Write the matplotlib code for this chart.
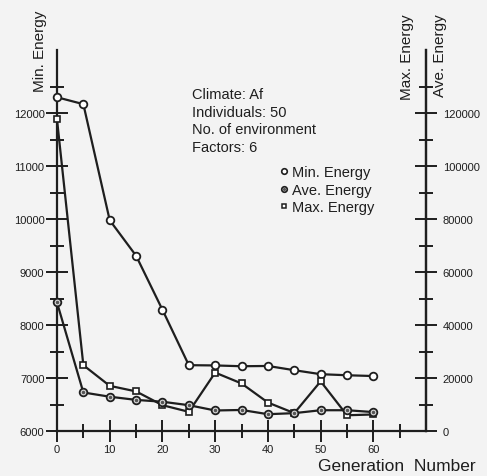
import matplotlib.pyplot as plt
from matplotlib.lines import Line2D
from matplotlib.ticker import FixedLocator

plt.rcParams['font.family'] = ['Liberation Sans', 'DejaVu Sans']

gen = [0, 5, 10, 15, 20, 25, 30, 35, 40, 45, 50, 55, 60]
min_energy = [12300, 12170, 9980, 9310, 8290, 7245, 7240, 7225, 7230, 7150, 7075, 7055, 7040]
ave_energy = [48600, 14600, 13000, 11800, 11100, 9800, 7800, 8000, 6400, 6800, 7900, 7900, 7200]
max_energy = [117700, 24900, 17100, 15000, 9800, 7300, 22100, 18000, 10800, 6800, 18800, 6000, 6300]

x_major = [0, 10, 20, 30, 40, 50, 60]
x_minor = [5, 15, 25, 35, 45, 55, 65]
left_major = [6000, 7000, 8000, 9000, 10000, 11000, 12000]
left_minor = [6500, 7500, 8500, 9500, 10500, 11500, 12500]
right_major = [0, 20000, 40000, 60000, 80000, 100000, 120000]
right_minor = [10000, 30000, 50000, 70000, 90000, 110000, 130000]

info = "Climate: Af\nIndividuals: 50\nNo. of environment\nFactors: 6"

ink = '#1e1e1e'
bg = '#f3f3f3'

fig = plt.figure(figsize=(4.87, 4.77), dpi=100, facecolor=bg)
ax = fig.add_axes([0.117, 0.094, 0.758, 0.80])
ax.set_facecolor(bg)
ax2 = ax.twinx()

ax.set_xlim(0, 70)
ax.set_ylim(6000, 13200)
ax2.set_ylim(0, 144000)

ax.plot(gen, min_energy, color=ink, lw=1.6, marker='o', ms=5.5,
        mfc='white', mec=ink, mew=1.3, clip_on=False, zorder=3)
ax2.plot(gen, max_energy, color=ink, lw=1.6, marker='s', ms=4.5,
         mfc='white', mec=ink, mew=1.2, clip_on=False, zorder=3)
ax2.plot(gen, ave_energy, color=ink, lw=1.6, marker='o', ms=5.5,
         mfc='#d8d8d8', mec=ink, mew=1.3, clip_on=False, zorder=4)
ax2.plot(gen, ave_energy, ls='none', marker='.', ms=3, color='#555555',
         clip_on=False, zorder=5)

for a in (ax, ax2):
    a.spines['top'].set_visible(False)
    for s in a.spines.values():
        s.set_linewidth(1.6)
        s.set_color(ink)

ax2.spines['left'].set_visible(False)
ax2.spines['bottom'].set_visible(False)

ax.set_xticks(x_major)
ax.xaxis.set_minor_locator(FixedLocator(x_minor))
ax.set_yticks(left_major)
ax.yaxis.set_minor_locator(FixedLocator(left_minor))
ax2.set_yticks(right_major)
ax2.yaxis.set_minor_locator(FixedLocator(right_minor))

ax.tick_params(axis='both', which='major', direction='inout', length=16,
               width=1.4, color=ink, labelsize=8, labelcolor=ink, pad=1)
ax.tick_params(axis='both', which='minor', direction='inout', length=10,
               width=1.4, color=ink)
ax2.tick_params(axis='y', which='major', direction='inout', length=16,
                width=1.4, color=ink, labelsize=8, labelcolor=ink, pad=4)
ax2.tick_params(axis='y', which='minor', direction='inout', length=10,
                width=1.4, color=ink)

fig.text(40 / 487, 1 - 92 / 477, 'Min. Energy', rotation=90, ha='center',
         va='bottom', fontsize=11, color=ink)
fig.text(407 / 487, 1 - 100 / 477, 'Max. Energy', rotation=90, ha='center',
         va='bottom', fontsize=11, color=ink)
fig.text(440 / 487, 1 - 97 / 477, 'Ave. Energy', rotation=90, ha='center',
         va='bottom', fontsize=11, color=ink)
fig.text(476 / 487, 1 - 467 / 477, 'Generation  Number', ha='right',
         va='center', fontsize=12.5, color=ink)

fig.text(192 / 487, 1 - 88 / 477, info, ha='left', va='top',
         fontsize=10.5, linespacing=1.32, color=ink)

handles = [
    Line2D([], [], ls='none', marker='o', ms=4, mfc='white', mec=ink, mew=1.2),
    (Line2D([], [], ls='none', marker='o', ms=4, mfc='#d8d8d8', mec=ink, mew=1.2),
     Line2D([], [], ls='none', marker='.', ms=2.5, color='#555555')),
    Line2D([], [], ls='none', marker='s', ms=3.5, mfc='white', mec=ink, mew=1.1),
]
labels = ['Min. Energy', 'Ave. Energy', 'Max. Energy']
fig.legend(handles, labels, loc='upper left',
           bbox_to_anchor=(280 / 487, 1 - 166 / 477), frameon=False,
           fontsize=10.5, handlelength=0.6, handletextpad=0.25,
           labelspacing=0.25, borderpad=0, borderaxespad=0,
           labelcolor=ink)

fig.savefig('out.png', dpi=100, facecolor=bg)
